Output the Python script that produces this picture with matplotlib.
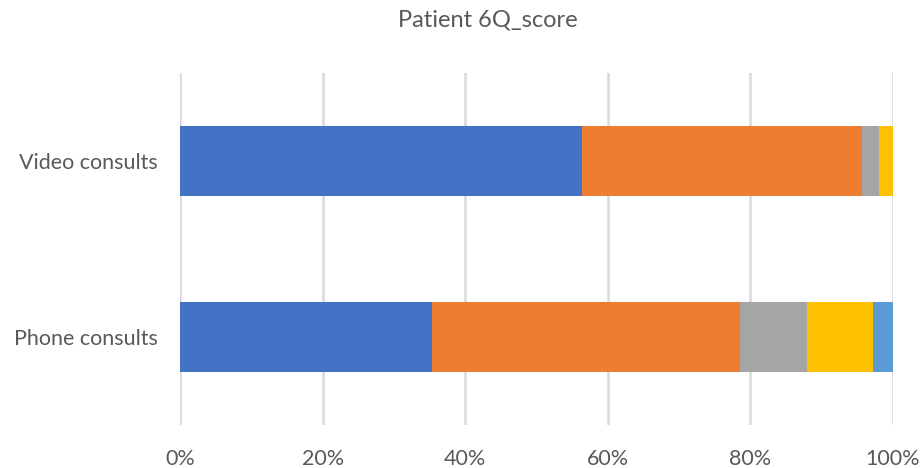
import matplotlib.pyplot as plt
import numpy as np

plt.rcParams['font.family'] = ['Lato', 'DejaVu Sans']

# categories, bottom to top
categories = ['Phone consults', 'Video consults']

# percentage share of each response level
level1 = [35.3, 56.4]
level2 = [43.2, 39.2]
level3 = [9.4, 2.5]
level4 = [9.3, 1.9]
level5 = [2.8, 0.0]

series = [level1, level2, level3, level4, level5]
colors = ['#4472C4', '#ED7D31', '#A5A5A5', '#FFC000', '#5B9BD5']

fig = plt.figure(figsize=(9.22, 4.68), dpi=100)
ax = fig.add_axes([0.1952, 0.0919, 0.7733, 0.752])

y = np.arange(len(categories))
left = np.zeros(len(categories))
for vals, c in zip(series, colors):
    ax.barh(y, vals, left=left, height=0.4, color=c, zorder=3)
    left = left + np.array(vals)

ax.set_xlim(0, 100)
ax.set_ylim(-0.5, 1.5)
ax.set_xticks(np.arange(0, 101, 20))
ax.set_xticklabels([f'{t}%' for t in range(0, 101, 20)])
ax.set_yticks(y)
ax.set_yticklabels(categories)

ax.grid(axis='x', color='#D9D9D9', linewidth=1.8, zorder=0)
for s in ax.spines.values():
    s.set_visible(False)
ax.tick_params(length=0, labelsize=15.5, labelcolor='#595959')
ax.tick_params(axis='x', pad=17)
ax.tick_params(axis='y', pad=16)

# title sits a bit right of the figure centre
fig.text(0.529, 0.958, 'Patient 6Q_score', ha='center', va='center',
         fontsize=17, color='#595959')

plt.savefig('out.png')
